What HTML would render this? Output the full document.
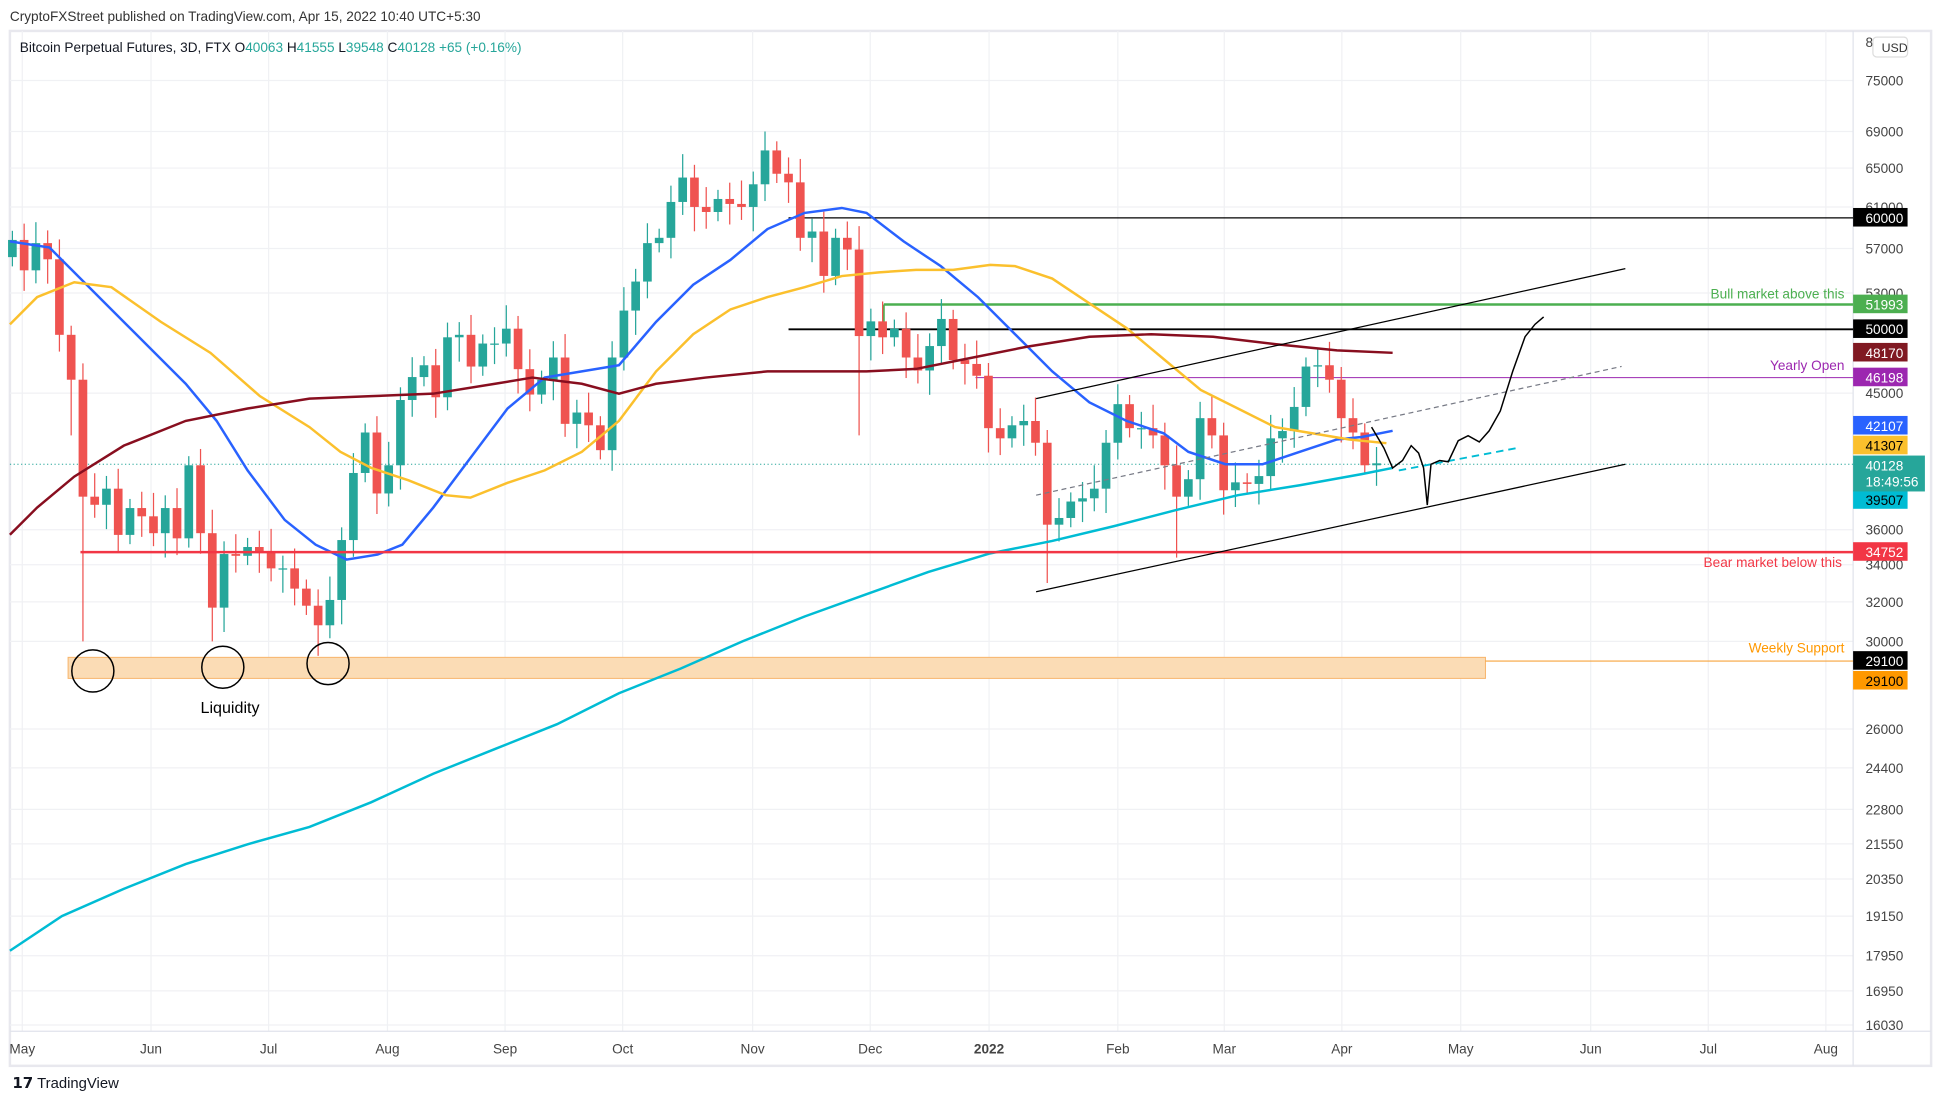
<!DOCTYPE html>
<html><head><meta charset="utf-8"><style>
html,body{margin:0;padding:0;background:#fff;}
svg{display:block;font-family:"Liberation Sans",sans-serif;}
</style></head><body>
<svg id="c" width="1941" height="1103" viewBox="0 0 1568 891" preserveAspectRatio="none" xmlns="http://www.w3.org/2000/svg">
<rect width="1568" height="891" fill="#fff"/>
<text x="8" y="17" font-size="11" fill="#333">CryptoFXStreet published on TradingView.com, Apr 15, 2022 10:40 UTC+5:30</text>
<rect x="8" y="25" width="1552" height="836" fill="none" stroke="#e8e8ee" stroke-width="2"/>
<g id="grid" stroke="#f0f1f4" stroke-width="1"></g>
<line x1="1497" y1="25" x2="1497" y2="861" stroke="#e0e3eb"/>
<line x1="8" y1="833" x2="1560" y2="833" stroke="#e0e3eb"/>
<rect x="55" y="531" width="1145" height="17" fill="#fbdcb5" stroke="#f7b46a" stroke-width="0.8"/>
<line x1="1200" y1="534" x2="1497" y2="534" stroke="#f7a33c" stroke-width="1"/>
<line x1="8" y1="375" x2="1497" y2="375" stroke="#26a69a" stroke-width="0.8" stroke-dasharray="1,2"/>
<line x1="637" y1="176" x2="1497" y2="176" stroke="#000" stroke-width="1"/>
<line x1="714" y1="246" x2="1497" y2="246" stroke="#4caf50" stroke-width="2"/>
<line x1="714" y1="246" x2="714" y2="262" stroke="#4caf50" stroke-width="1.5"/>
<line x1="637" y1="266" x2="1497" y2="266" stroke="#000" stroke-width="1.5"/>
<line x1="788" y1="305" x2="1497" y2="305" stroke="#9c27b0" stroke-width="0.8"/>
<g id="cand"></g>
<g id="ma" fill="none" stroke-width="2"></g>
<line x1="65" y1="446" x2="1497" y2="446" stroke="#f23645" stroke-width="2"/>
<line x1="837" y1="322" x2="1313" y2="217" stroke="#000" stroke-width="1"/>
<line x1="837" y1="478" x2="1313" y2="375" stroke="#000" stroke-width="1"/>
<line x1="837" y1="400" x2="1310" y2="296" stroke="#787b86" stroke-width="1" stroke-dasharray="4,3"/>
<line x1="1130" y1="380" x2="1225" y2="362" stroke="#00bcd4" stroke-width="1.5" stroke-dasharray="6,4"/>
<polyline fill="none" stroke="#000" stroke-width="1.2" points="1108,345 1118,362 1125,378 1133,372 1140,360 1146,366 1150,378 1153,408 1156,375 1163,372 1170,373 1178,356 1186,352 1195,357 1203,348 1212,332 1222,300 1232,272 1240,262 1247,256"/>
<g fill="none" stroke="#000" stroke-width="1.2"><circle cx="75" cy="542" r="17"/><circle cx="180" cy="539" r="17"/><circle cx="265" cy="536" r="17"/></g>
<text x="162" y="576" font-size="13" fill="#000">Liquidity</text>
<g font-size="11" text-anchor="end">
<text x="1490" y="241" fill="#4caf50">Bull market above this</text>
<text x="1490" y="299" fill="#9c27b0">Yearly Open</text>
<text x="1488" y="458" fill="#f23645">Bear market below this</text>
<text x="1490" y="527" fill="#ff9800">Weekly Support</text>
</g>
<text x="16" y="42" font-size="11" fill="#131722">Bitcoin Perpetual Futures, 3D, FTX  O<tspan fill="#26a69a">40063</tspan>  H<tspan fill="#26a69a">41555</tspan>  L<tspan fill="#26a69a">39548</tspan>  C<tspan fill="#26a69a">40128</tspan>  <tspan fill="#26a69a">+65 (+0.16%)</tspan></text>
<g id="axis" font-size="11" fill="#444"></g>
<g id="tags" font-size="11"></g>
<rect x="1513" y="30" width="28" height="16" rx="3" fill="#fff" stroke="#ddd"/>
<text x="1520" y="42" font-size="10" fill="#333">USD</text>
<text x="10" y="879" font-size="12" font-weight="bold" fill="#131722">𝟭𝟳</text>
<text x="30" y="879" font-size="12" fill="#131722">TradingView</text>
</svg>
<script>
var NS="http://www.w3.org/2000/svg";
function el(p,t,a,txt){var e=document.createElementNS(NS,t);for(var k in a)e.setAttribute(k,a[k]);if(txt)e.textContent=txt;document.getElementById(p).appendChild(e);return e;}
function y(p){return 65+(Math.log(75000)-Math.log(p))*494.5;}
var ticks=[75000,69000,65000,61000,57000,53000,45000,36000,34000,32000,30000,26000,24400,22800,21550,20350,19150,17950,16950,16030];
ticks.forEach(function(t){var yy=y(t);el("grid","line",{x1:8,x2:1497,y1:yy,y2:yy});el("axis","text",{x:1507,y:yy+4},String(t));});
el("axis","text",{x:1507,y:38},"80");
var months=[["May",18],["Jun",122],["Jul",217],["Aug",313],["Sep",408],["Oct",503],["Nov",608],["Dec",703],["2022",799],["Feb",903],["Mar",989],["Apr",1084],["May",1180],["Jun",1285],["Jul",1380],["Aug",1475]];
months.forEach(function(m){el("grid","line",{x1:m[1],x2:m[1],y1:25,y2:833});var t=el("axis","text",{x:m[1],y:851,"text-anchor":"middle"},m[0]);if(m[0]=="2022")t.setAttribute("font-weight","bold");});
var c=[57800,55000,57500,56000,49500,46000,38000,37500,38500,35700,37300,36800,35800,37300,35500,40000,35800,31700,34600,34500,35000,34700,33800,33800,32700,31800,30800,32100,35400,39500,42200,38200,40000,44500,46200,47100,44700,49300,49500,47000,48800,48800,50000,46800,44900,46000,47700,42800,43600,42700,41000,47700,51500,54000,57500,58000,61500,64000,61000,60500,61800,61300,61000,63300,66900,64400,63500,58000,58600,54500,58000,56900,49400,50600,49300,50000,47700,46700,48600,50800,47500,47200,46300,42500,41800,42700,43000,41500,36300,36700,37700,37900,38500,41500,44200,42500,42500,42000,40000,38000,39100,43200,42000,38400,38900,38800,39300,41800,42300,44000,47000,47100,46000,43200,42200,40000,40128];
var wl={6:30000,17:30000,26:29300,72:42000,88:33000,99:34400,5:42000};
var wh={64:69000,2:59500,37:50500};
for(var i=0;i<c.length;i++){
 var x=10+i*9.5,cl=c[i],op=(i==0?56200:c[i-1]);
 var hi=wh[i]||Math.max(op,cl)*(1+0.015+((i*7)%5)*0.006);
 var lo=wl[i]||Math.min(op,cl)*(1-0.015-((i*3)%5)*0.006);
 var col=cl>=op?"#26a69a":"#ef5350";
 el("cand","line",{x1:x,x2:x,y1:y(hi),y2:y(lo),stroke:col,"stroke-width":1});
 var t=y(Math.max(op,cl)),b=y(Math.min(op,cl));
 el("cand","rect",{x:x-3.5,y:t,width:7,height:Math.max(1,b-t),fill:col});
}
var mas=[["#2962ff","8,195 40,200 70,230 110,270 150,310 175,340 200,380 230,420 255,440 280,452 305,448 325,440 350,410 380,370 410,330 440,305 470,300 500,295 530,260 560,230 590,210 620,185 650,172 680,168 700,172 730,195 760,215 790,240 820,270 850,300 880,325 910,340 940,350 960,365 990,375 1020,375 1050,365 1080,355 1100,353 1125,348"],
["#fbc02d","8,262 30,240 60,228 90,232 130,260 170,285 210,320 250,345 275,365 300,378 330,388 360,400 380,402 410,390 440,380 470,365 500,340 530,300 560,270 590,250 620,240 650,232 680,223 710,220 740,218 770,218 800,214 820,215 850,225 880,245 910,265 940,290 970,315 1000,330 1030,345 1060,350 1090,355 1120,358"],
["#880e1f","8,432 30,410 60,385 100,360 150,340 200,330 250,322 300,320 350,318 400,310 430,305 470,310 500,318 530,310 570,305 620,300 660,300 700,300 740,298 780,290 830,280 880,272 930,270 980,272 1030,278 1080,283 1125,285"],
["#00bcd4","8,768 50,740 100,718 150,698 200,682 250,668 300,648 350,625 400,605 450,585 500,560 550,540 600,518 650,498 700,480 750,462 800,447 850,437 900,425 950,412 1000,400 1050,392 1100,383 1125,378"]];
mas.forEach(function(m){el("ma","polyline",{points:m[1],stroke:m[0]});});
var tags=[[176,"#000","#fff","60000"],[246,"#4caf50","#fff","51993"],[266,"#000","#fff","50000"],[285,"#801922","#fff","48170"],[305,"#9c27b0","#fff","46198"],[344,"#2962ff","#fff","42107"],[360,"#fbc02d","#000","41307"],[404,"#00bcd4","#000","39507"],[446,"#f23645","#fff","34752"],[534,"#000","#fff","29100"],[550,"#ff9800","#000","29100"]];
tags.forEach(function(t){el("tags","rect",{x:1497,y:t[0]-8,width:44,height:15,fill:t[1]});el("tags","text",{x:1507,y:t[0]+4,fill:t[2]},t[3]);});
el("tags","rect",{x:1497,y:368,width:58,height:29,fill:"#26a69a"});
el("tags","text",{x:1507,y:380,fill:"#fff"},"40128");
el("tags","text",{x:1507,y:393,fill:"#fff"},"18:49:56");
</script>
</body></html>
